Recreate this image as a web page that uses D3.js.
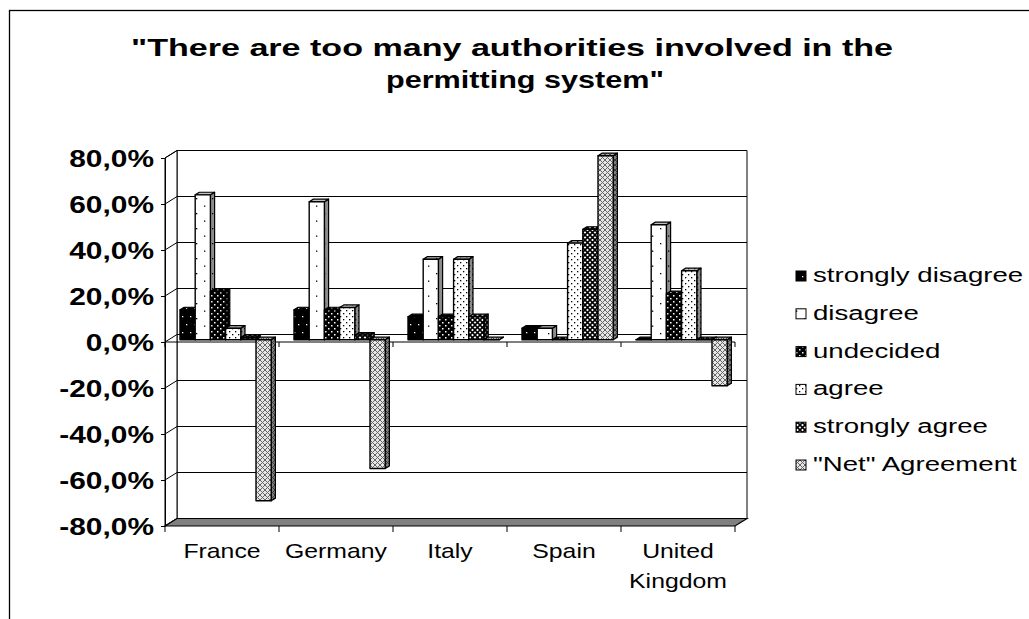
<!DOCTYPE html>
<html><head><meta charset="utf-8">
<script src="https://cdn.jsdelivr.net/npm/d3@7"></script>
<style>html,body{margin:0;padding:0;background:#fff;overflow:hidden}</style>
</head><body><svg id="c" width="1029" height="619"></svg>
<script>
// ---- data ----
const categories = ["France", "Germany", "Italy", "Spain", "United Kingdom"];
const seriesNames = ["strongly disagree", "disagree", "undecided", "agree", "strongly agree", "\"Net\" Agreement"];
const stronglyDisagree = [13, 13, 10, 5, 0];
const disagree = [63, 60, 35, 5, 50];
const undecided = [21, 13, 10, 0, 20];
const agree = [5, 14, 35, 42, 30];
const stronglyAgree = [1, 2, 10, 48, 0];
const netAgreement = [-70, -56, 0, 80, -20];
const yTicks = [-0.8, -0.6, -0.4, -0.2, 0, 0.2, 0.4, 0.6, 0.8];
const titleLines = ["\"There are too many authorities involved in the", "permitting system\""];

const seriesValues = [stronglyDisagree, disagree, undecided, agree, stronglyAgree, netAgreement];

// ---- setup ----
const svg = d3.select("#c");
const FONT = "'Liberation Sans', Arial, sans-serif";
const locale = d3.formatLocale({decimal: ",", thousands: ".", grouping: [3], currency: ["", "€"], minus: "-", percent: "%"});
const fmt = locale.format(".1%");

function stretch(sel, factor) {
  sel.each(function () {
    const w = this.getComputedTextLength();
    d3.select(this).attr("textLength", w * factor).attr("lengthAdjust", "spacingAndGlyphs");
  });
}

// ---- patterns ----
const defs = svg.append("defs");
function pat(id, w, h, bg, draw) {
  const p = defs.append("pattern").attr("id", id).attr("patternUnits", "userSpaceOnUse")
    .attr("width", w).attr("height", h);
  p.append("rect").attr("width", w).attr("height", h).attr("fill", bg);
  draw(p);
}
const dots = (pts, col, s) => p => pts.forEach(([x, y]) => p.append("rect").attr("x", x).attr("y", y).attr("width", s).attr("height", s).attr("fill", col));
pat("p0", 8, 16, "#000", dots([[2, 4], [6, 12]], "#fff", 1.3));
pat("p1", 16, 15, "#fff", dots([[4, 3], [12, 10.5]], "#000", 1.3));
pat("p2", 6, 6, "#000", dots([[1, 1], [4, 4]], "#fff", 1.5));
pat("p3", 6, 6, "#fff", dots([[1, 1], [4, 4]], "#000", 1.3));
pat("p4", 5, 5, "#fff", p => {
  p.append("path").attr("d", "M0,0L5,5M5,0L0,5").attr("stroke", "#000").attr("stroke-width", 1.6);
  p.append("rect").attr("x", 2).attr("y", 2).attr("width", 1).attr("height", 1).attr("fill", "#000");
});
pat("p5", 5, 5, "#e6e6e6", p => {
  p.append("path").attr("d", "M0,0L5,5M5,0L0,5").attr("stroke", "#666").attr("stroke-width", 1);
});
const patIds = ["p0", "p1", "p2", "p3", "p4", "p5"];

// ---- chart border ----
svg.append("rect").attr("x", 9.5).attr("y", 10.5).attr("width", 1100).attr("height", 700)
  .attr("fill", "none").attr("stroke", "#000").attr("stroke-width", 1.3);

// ---- title ----
const titleX = [131, 386], titleW = [762, 278], titleY = [56, 88];
titleLines.forEach((t, i) => {
  svg.append("text").attr("x", titleX[i]).attr("y", titleY[i]).text(t)
    .attr("font-family", FONT).attr("font-weight", "bold").attr("font-size", 24)
    .attr("textLength", titleW[i]).attr("lengthAdjust", "spacingAndGlyphs");
});

// ---- scales ----
const y = d3.scaleLinear().domain([-0.8, 0.8]).range([526, 158]);
const xCat = d3.scaleBand().domain(categories).range([165, 735]).padding(0);
const xSer = d3.scaleBand().domain(seriesNames).range([0, xCat.bandwidth()]).paddingInner(0).paddingOuter(0.75);
const DX = 12, DY = -7.5;
const P = (x, v, t) => [x + DX * t, y(v) + DY * t];
const poly = pts => "M" + pts.map(p => p.join(",")).join("L") + "Z";

const x0 = xCat.range()[0], x1 = xCat.range()[1];
const yMin = y.domain()[0], yMax = y.domain()[1];

// ---- walls ----
const walls = svg.append("g");
walls.append("path").attr("d", poly([P(x0, yMax, 1), P(x1, yMax, 1), P(x1, yMin, 1), P(x0, yMin, 1)]))
  .attr("fill", "#fff").attr("stroke", "#000").attr("stroke-width", 1);
walls.append("path").attr("d", poly([P(x0, yMax, 0), P(x0, yMax, 1), P(x0, yMin, 1), P(x0, yMin, 0)]))
  .attr("fill", "#fff").attr("stroke", "#000").attr("stroke-width", 1);
yTicks.forEach(v => {
  walls.append("path").attr("d", "M" + P(x0, v, 0) + "L" + P(x0, v, 1) + "L" + P(x1, v, 1))
    .attr("fill", "none").attr("stroke", "#000").attr("stroke-width", 1);
});
// floor
walls.append("path").attr("d", poly([P(x0, yMin, 0), P(x1, yMin, 0), P(x1, yMin, 1), P(x0, yMin, 1)]))
  .attr("fill", "#808080").attr("stroke", "#000").attr("stroke-width", 1.2);

// ---- value axis ----
const yAxis = svg.append("g").attr("transform", `translate(${x0},0)`)
  .call(d3.axisLeft(y).tickValues(yTicks).tickSize(4).tickSizeOuter(0).tickFormat(fmt));
yAxis.select(".domain").attr("stroke", "#000");
yAxis.selectAll(".tick line").attr("stroke", "#000");
yAxis.selectAll(".tick text").attr("font-family", FONT).attr("font-weight", "bold").attr("font-size", 23)
  .attr("fill", "#000").attr("dy", null).attr("y", 8).attr("text-anchor", "start")
  .each(function () {
    const w = this.getComputedTextLength() * 1.3;
    d3.select(this).attr("textLength", w).attr("lengthAdjust", "spacingAndGlyphs").attr("x", -11 - w);
  });

// ---- zero axis line ----
const zeroY = y(0);
svg.append("line").attr("x1", x0).attr("x2", x1).attr("y1", zeroY).attr("y2", zeroY).attr("stroke", "#000");
const bounds = categories.map(c => xCat(c)).concat([x1]);
bounds.forEach(b => {
  svg.append("line").attr("x1", b).attr("x2", b).attr("y1", zeroY).attr("y2", zeroY + 5).attr("stroke", "#000");
  svg.append("line").attr("x1", b).attr("x2", b).attr("y1", y(yMin)).attr("y2", y(yMin) + 6).attr("stroke", "#000");
});

// ---- bars ----
const tF = 0.3, tB = 0.65;
const bars = svg.append("g");
categories.forEach((c, ci) => {
  seriesNames.forEach((s, si) => {
    const v = seriesValues[si][ci] / 100;
    const xa = xCat(c) + xSer(s), xb = xa + xSer.bandwidth();
    const top = Math.max(0, v), bot = Math.min(0, v);
    const side = [P(xb, top, tF), P(xb, top, tB), P(xb, bot, tB), P(xb, bot, tF)];
    const topF = [P(xa, top, tF), P(xb, top, tF), P(xb, top, tB), P(xa, top, tB)];
    const front = [P(xa, top, tF), P(xb, top, tF), P(xb, bot, tF), P(xa, bot, tF)];
    const g = bars.append("g");
    g.append("path").attr("d", poly(side)).attr("fill", `url(#${patIds[si]})`);
    g.append("path").attr("d", poly(side)).attr("fill", "#000").attr("fill-opacity", 0.45)
      .attr("stroke", "#000").attr("stroke-width", 1.2).attr("stroke-linejoin", "round");
    g.append("path").attr("d", poly(topF)).attr("fill", `url(#${patIds[si]})`);
    g.append("path").attr("d", poly(topF)).attr("fill", "#000").attr("fill-opacity", 0.25)
      .attr("stroke", "#000").attr("stroke-width", 1.2).attr("stroke-linejoin", "round");
    g.append("path").attr("d", poly(front)).attr("fill", `url(#${patIds[si]})`)
      .attr("stroke", "#000").attr("stroke-width", 1.4).attr("stroke-linejoin", "round");
  });
});

// ---- category labels ----
categories.forEach(c => {
  const cx = xCat(c) + xCat.bandwidth() / 2;
  const words = c === "United Kingdom" ? ["United", "Kingdom"] : [c];
  words.forEach((wd, i) => {
    const t = svg.append("text").attr("y", 558 + i * 30).text(wd)
      .attr("font-family", FONT).attr("font-size", 21).attr("fill", "#000");
    const w = t.node().getComputedTextLength() * 1.18;
    t.attr("textLength", w).attr("lengthAdjust", "spacingAndGlyphs").attr("x", cx - w / 2);
  });
});

// ---- legend ----
const leg = svg.append("g");
seriesNames.forEach((s, i) => {
  const by = 282 + i * 37.8;
  leg.append("rect").attr("x", 796).attr("y", by - 11).attr("width", 10).attr("height", 10)
    .attr("fill", `url(#${patIds[i]})`).attr("stroke", "#000").attr("stroke-width", 1);
  const t = leg.append("text").attr("x", 813).attr("y", by).text(s)
    .attr("font-family", FONT).attr("font-size", 20).attr("fill", "#000");
  stretch(t, 1.38);
});
</script></body></html>
